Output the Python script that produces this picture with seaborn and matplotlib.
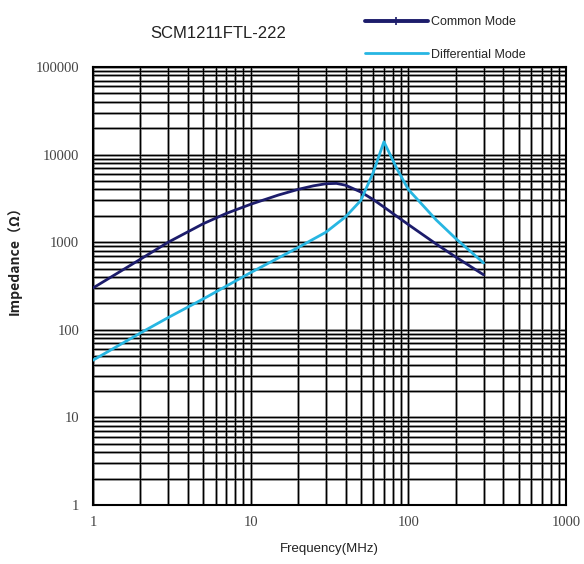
import numpy as np
import pandas as pd
import matplotlib
matplotlib.use("Agg")
import matplotlib.pyplot as plt
from matplotlib.lines import Line2D
from matplotlib.ticker import LogLocator, FixedLocator, FixedFormatter, NullFormatter
import seaborn as sns

# Impedance vs. frequency for SCM1211FTL-222
cm_freq = [1, 2, 3, 5, 7, 10, 15, 20, 25, 30, 35, 40, 50, 60, 70, 85, 100, 150, 200, 300]
cm_imp = [300, 640, 1000, 1625, 2130, 2710, 3455, 4010, 4400, 4650, 4690, 4470, 3740, 3060, 2520, 1960,
          1590, 955, 677, 425]

dm_freq = [1, 2, 3, 5, 10, 20, 30, 40, 50, 60, 70, 85, 100, 150, 200, 300]
dm_imp = [45, 92, 138, 225, 450, 870, 1300, 1950, 3000, 6300, 14000, 6800, 4000, 1800, 1100, 580]

x_ticks = [1, 10, 100, 1000]
x_tick_labels = ["1", "10", "100", "1000"]
y_ticks = [1, 10, 100, 1000, 10000, 100000]
y_tick_labels = ["1", "10", "100", "1000", "10000", "100000"]

series_names = ["Common Mode", "Differential Mode"]
colors = {"Common Mode": "#1c1c6b", "Differential Mode": "#27b6e2"}

df = pd.concat([
    pd.DataFrame({"Frequency": cm_freq, "Impedance": cm_imp, "Mode": series_names[0]}),
    pd.DataFrame({"Frequency": dm_freq, "Impedance": dm_imp, "Mode": series_names[1]}),
])

sns.set_theme(style="white")
plt.rcParams["font.family"] = ["Liberation Sans", "DejaVu Sans"]

fig = plt.figure(figsize=(5.84, 5.64), dpi=100)
ax = fig.add_axes([93 / 584, 1 - 505 / 564, (566 - 93) / 584, (505 - 67) / 564])

ax.set_xscale("log")
ax.set_yscale("log")
ax.set_xlim(1, 1000)
ax.set_ylim(1, 100000)

# dense grid: grey halo under thin black lines
ax.xaxis.set_minor_locator(LogLocator(base=10, subs=np.arange(2, 10)))
ax.yaxis.set_minor_locator(LogLocator(base=10, subs=np.arange(2, 10)))
for which in ("major", "minor"):
    ax.grid(True, which=which, axis="both", color="#9a9a9a", lw=2.0, zorder=0)
for v in np.concatenate([np.arange(1, 10) * 10.0 ** k for k in range(0, 3)]):
    ax.axvline(v, color="black", lw=0.85, zorder=1)
for v in np.concatenate([np.arange(1, 10) * 10.0 ** k for k in range(0, 5)]):
    ax.axhline(v, color="black", lw=0.85, zorder=1)

sns.lineplot(data=df, x="Frequency", y="Impedance", hue="Mode",
             palette=colors, lw=2.0, ax=ax, legend=False, zorder=3, sort=True)

ax.xaxis.set_major_locator(FixedLocator(x_ticks))
ax.xaxis.set_major_formatter(FixedFormatter(x_tick_labels))
ax.xaxis.set_minor_formatter(NullFormatter())
ax.yaxis.set_major_locator(FixedLocator(y_ticks))
ax.yaxis.set_major_formatter(FixedFormatter(y_tick_labels))
ax.yaxis.set_minor_formatter(NullFormatter())
ax.tick_params(which="both", length=0)
ax.tick_params(axis="x", pad=8)
ax.tick_params(axis="y", pad=10)
for lab in ax.get_xticklabels() + ax.get_yticklabels():
    lab.set_fontfamily("Liberation Serif")
    lab.set_fontsize(10.5)
    lab.set_color("#444444")

for s in ax.spines.values():
    s.set_visible(True)
    s.set_color("black")
    s.set_linewidth(1.5)

ax.set_xlabel("Frequency(MHz)", fontsize=9.5, labelpad=10, color="#222222")
ax.set_ylabel("Impedance（Ω）", fontsize=10, fontweight="bold", color="#222222",
              family=["Noto Sans CJK SC", "DejaVu Sans"])
ax.yaxis.set_label_coords(-0.15, 0.566)

fig.text(218 / 584, 1 - 33 / 564, "SCM1211FTL-222", ha="center", va="center",
         fontsize=12, color="#222222")

handles = [
    Line2D([], [], color=colors[series_names[0]], lw=2.8, marker="|", markersize=6,
           markeredgewidth=1.2),
    Line2D([], [], color=colors[series_names[1]], lw=2.0),
]
fig.legend(handles=handles, labels=series_names, loc="upper left",
           bbox_to_anchor=(365 / 584, 1 - 16 / 564), frameon=False, fontsize=9,
           handlelength=5.0, handletextpad=0.25, labelspacing=1.65, numpoints=1,
           borderpad=0, borderaxespad=0)

fig.savefig("out.png", dpi=100)
